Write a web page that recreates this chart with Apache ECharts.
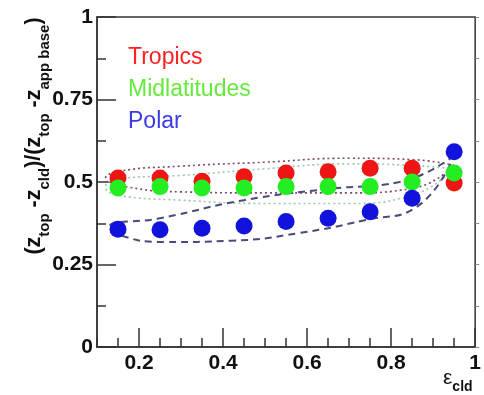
<!DOCTYPE html>
<html>
<head>
<meta charset="utf-8">
<script src="https://cdn.jsdelivr.net/npm/echarts@6/dist/echarts.min.js"></script>
<style>html,body{margin:0;padding:0;background:#fff}#c{width:484px;height:395px}</style>
</head>
<body>
<div id="c"></div>
<script>
// ---- data ----
var emissivity = [0.15, 0.25, 0.35, 0.45, 0.55, 0.65, 0.75, 0.85, 0.95];
var tropics = [0.512, 0.512, 0.502, 0.516, 0.527, 0.531, 0.542, 0.542, 0.497];
var midlatitudes = [0.482, 0.486, 0.482, 0.482, 0.486, 0.486, 0.486, 0.500, 0.527];
var polar = [0.357, 0.355, 0.360, 0.367, 0.380, 0.390, 0.410, 0.451, 0.592];
var seriesNames = ['Tropics', 'Midlatitudes', 'Polar'];
var xTickLabels = [0.2, 0.4, 0.6, 0.8, 1];
var yTickLabels = [0, 0.25, 0.5, 0.75, 1];
// hand-drawn outline annotations (traced points)
var tropicsOutlineX = [0.95, 0.85, 0.70, 0.50, 0.30, 0.15, 0.12, 0.15, 0.30, 0.50, 0.70, 0.85, 0.95];
var tropicsOutlineY = [0.550, 0.568, 0.572, 0.560, 0.548, 0.532, 0.510, 0.490, 0.470, 0.467, 0.467, 0.480, 0.550];
var midOutlineX = [0.95, 0.85, 0.70, 0.50, 0.30, 0.15, 0.12, 0.15, 0.30, 0.50, 0.70, 0.85, 0.95];
var midOutlineY = [0.540, 0.550, 0.555, 0.540, 0.520, 0.510, 0.485, 0.460, 0.445, 0.435, 0.435, 0.460, 0.540];
var polarOutlineX = [0.95, 0.82, 0.65, 0.45, 0.25, 0.13, 0.15, 0.26, 0.42, 0.58, 0.74, 0.86, 0.95];
var polarOutlineY = [0.580, 0.500, 0.479, 0.445, 0.390, 0.365, 0.340, 0.318, 0.322, 0.345, 0.385, 0.424, 0.580];

function zip(xs, ys) { return xs.map(function (x, i) { return [x, ys[i]]; }); }

var colors = ['#ee1515', '#22ee22', '#1212dd'];
var legendColors = ['#ff2020', '#66e83c', '#3a3ae8'];
var axisColor = '#333';
var font = 'Liberation Sans, Arial, sans-serif';

var chart = echarts.init(document.getElementById('c'), null, {renderer: 'canvas'});
chart.setOption({
  animation: false,
  backgroundColor: '#fff',
  grid: {left: 97, right: 8, top: 17, bottom: 48, show: true, borderColor: axisColor, borderWidth: 1.5, containLabel: false},
  legend: {
    orient: 'vertical', left: 118, top: 41, itemGap: 9, itemWidth: 0, itemHeight: 0, icon: 'none',
    selectedMode: false,
    textStyle: {fontSize: 23, fontFamily: font},
    data: seriesNames.map(function (n, i) { return {name: n, icon: 'none', textStyle: {color: legendColors[i], fontSize: 23, fontFamily: font}}; })
  },
  xAxis: [{
    type: 'value', min: 0.1, max: 1, interval: 0.1,
    axisLine: {show: true, lineStyle: {color: axisColor, width: 1.5}},
    axisTick: {show: true, inside: true, length: 19, customValues: xTickLabels, lineStyle: {color: axisColor, width: 1.5}},
    axisLabel: {show: true, customValues: xTickLabels, margin: 6, fontSize: 21, fontWeight: 'bold', color: '#111', fontFamily: font,
      formatter: function (v) { return String(Math.round(v * 10) / 10); }},
    splitLine: {show: false}
  }, {
    type: 'value', min: 0.1, max: 1, interval: 0.05, position: 'bottom',
    axisLine: {show: false},
    axisTick: {show: true, inside: true, length: 9, lineStyle: {color: axisColor, width: 1.5}},
    axisLabel: {show: false}, splitLine: {show: false}
  }],
  yAxis: [{
    type: 'value', min: 0, max: 1, interval: 0.25,
    axisLine: {show: true, lineStyle: {color: axisColor, width: 1.5}},
    axisTick: {show: true, inside: true, length: 19, lineStyle: {color: axisColor, width: 1.5}},
    minorTick: {show: true, splitNumber: 2, length: 9, lineStyle: {color: axisColor, width: 1.5}},
    axisLabel: {show: true, margin: 4, fontSize: 21, fontWeight: 'bold', color: '#111', fontFamily: font,
      customValues: yTickLabels,
      formatter: function (v) { return String(v); }},
    splitLine: {show: false}
  }, {
    type: 'value', min: 0, max: 1, interval: 0.125, position: 'right',
    axisLine: {show: false},
    axisTick: {show: true, inside: false, length: 4, lineStyle: {color: '#888', width: 1}},
    axisLabel: {show: false}, splitLine: {show: false}
  }],
  graphic: [{
    type: 'text', x: 38, y: 136, rotation: Math.PI / 2,
    style: {
      text: '{n|(z}{s|top}{n| -z}{s|cld}{n|)/(z}{s|top}{n| -z}{s|app base}{n|)}',
      align: 'center', verticalAlign: 'middle', fill: '#111',
      rich: {
        n: {fontSize: 21.5, fontWeight: 'bold', fontFamily: font, fill: '#111', verticalAlign: 'bottom', padding: [0, 0, 7, 0]},
        s: {fontSize: 15, fontWeight: 'bold', fontFamily: font, fill: '#111', verticalAlign: 'bottom'}
      }
    }
  }, {
    type: 'text', x: 443, y: 394,
    style: {
      text: '{n|ε}{s|cld}', align: 'left', verticalAlign: 'bottom', fill: '#111',
      rich: {
        n: {fontSize: 21, fontFamily: font, fill: '#111', verticalAlign: 'bottom', padding: [0, 0, 5, 0]},
        s: {fontSize: 14, fontWeight: 'bold', fontFamily: font, fill: '#111', verticalAlign: 'bottom'}
      }
    }
  }],
  series: [
    {name: 'tropicsOutline', type: 'line', smooth: 0.5, symbol: 'none', z: 1, silent: true,
      data: zip(tropicsOutlineX, tropicsOutlineY), lineStyle: {color: '#7a4a6a', width: 1.6, type: [2, 3]}},
    {name: 'midOutline', type: 'line', smooth: 0.5, symbol: 'none', z: 1, silent: true,
      data: zip(midOutlineX, midOutlineY), lineStyle: {color: '#9cc8a8', width: 1.6, type: [2, 3]}},
    {name: 'polarOutline', type: 'line', smooth: 0.5, symbol: 'none', z: 1, silent: true,
      data: zip(polarOutlineX, polarOutlineY), lineStyle: {color: '#4a4a78', width: 2, type: [7, 5]}},
    {name: seriesNames[0], type: 'scatter', symbolSize: 17, z: 3, data: zip(emissivity, tropics), itemStyle: {color: colors[0], opacity: 1}},
    {name: seriesNames[1], type: 'scatter', symbolSize: 17, z: 4, data: zip(emissivity, midlatitudes), itemStyle: {color: colors[1], opacity: 1}},
    {name: seriesNames[2], type: 'scatter', symbolSize: 17, z: 5, data: zip(emissivity, polar), itemStyle: {color: colors[2], opacity: 1}}
  ]
});
</script>
</body>
</html>
